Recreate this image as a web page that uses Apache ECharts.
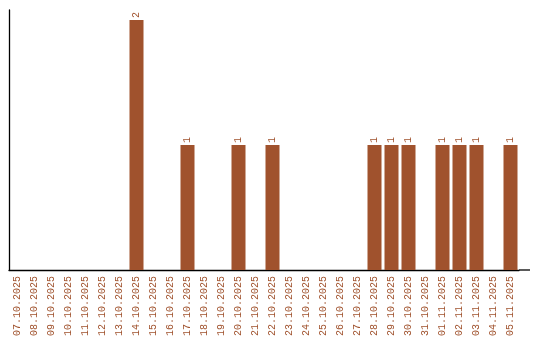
<!DOCTYPE html>
<html><head><meta charset="utf-8">
<script src="https://cdn.jsdelivr.net/npm/echarts@6/dist/echarts.min.js"></script>
<style>html,body{margin:0;padding:0;background:#fff}#c{width:540px;height:340px}</style>
</head><body><div id="c"></div>
<script>
const categories = ["07.10.2025","08.10.2025","09.10.2025","10.10.2025","11.10.2025","12.10.2025","13.10.2025","14.10.2025","15.10.2025","16.10.2025","17.10.2025","18.10.2025","19.10.2025","20.10.2025","21.10.2025","22.10.2025","23.10.2025","24.10.2025","25.10.2025","26.10.2025","27.10.2025","28.10.2025","29.10.2025","30.10.2025","31.10.2025","01.11.2025","02.11.2025","03.11.2025","04.11.2025","05.11.2025"];
const values = [0,0,0,0,0,0,0,2,0,0,1,0,0,1,0,1,0,0,0,0,0,1,1,1,0,1,1,1,0,1];

const chart = echarts.init(document.getElementById('c'), null, {renderer:'canvas'});
const font = 'Liberation Mono';
const color = '#a0522d';
chart.setOption({
  animation:false,
  grid:{left:9,right:21,top:10,bottom:70,containLabel:false},
  xAxis:{type:'category',data:categories,
    axisLine:{lineStyle:{color:'#000',width:1.3}},
    axisTick:{show:false},
    axisLabel:{rotate:90,interval:0,fontFamily:font,fontSize:10,color:color,margin:6}},
  yAxis:{type:'value',min:0,max:2.08,
    axisLine:{show:true,lineStyle:{color:'#000',width:1.3}},
    axisTick:{show:false},axisLabel:{show:false},splitLine:{show:false}},
  series:[{type:'bar',data:values.map(v=>v===0?null:v),barWidth:14,
    itemStyle:{color:color},
    label:{show:true,position:'top',rotate:90,align:'left',verticalAlign:'middle',distance:2,
      fontFamily:font,fontSize:10,color:color}}],
  graphic:[{type:'line',shape:{x1:519,y1:270,x2:530,y2:270},style:{stroke:'#000',lineWidth:1.3}}]
});
</script></body></html>
